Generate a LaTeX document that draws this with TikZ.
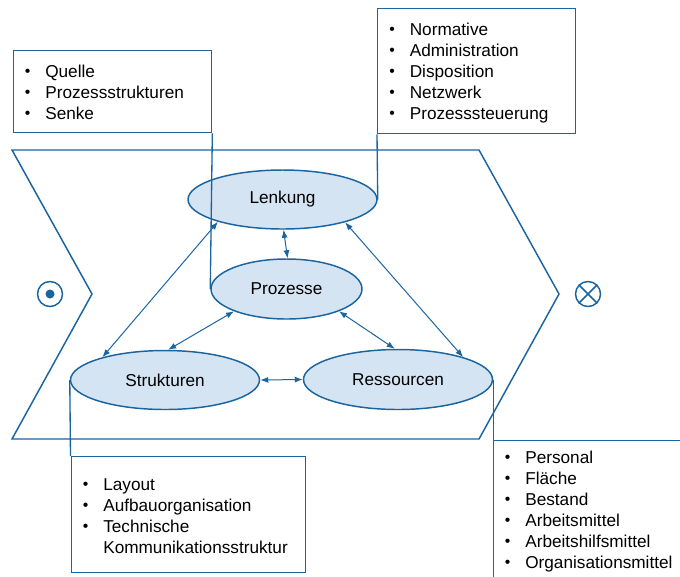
\documentclass[tikz,border=0pt]{standalone}
\usepackage{fontspec}
\setmainfont{Liberation Sans}
\usetikzlibrary{arrows.meta,shapes.geometric}

\definecolor{lineblue}{HTML}{1A64A0}
\definecolor{fillblue}{HTML}{D5E4F3}

% one drawing unit
\newdimen\pxu \pxu=0.75pt

% list bullet
\newcommand{\bul}{\raisebox{0.5pt}{\fontsize{11.8}{11.8}\selectfont\textbullet}}
% bulleted list with hanging indent
\newcommand{\itemlist}[1]{\begin{tabular}[t]{@{}p{15.4pt}@{}l@{}}#1\end{tabular}}

\tikzset{
  >={Latex[length=6pt,width=4.5pt]},
  area/.style={draw=lineblue, line width=1.1pt, line join=miter},
  ell/.style={ellipse, draw=lineblue, fill=fillblue, line width=1.1pt, inner sep=0pt},
  listbox/.style={rectangle, draw=lineblue, line width=1pt, anchor=north west, inner sep=0pt},
  listtext/.style={anchor=base west, inner sep=0pt},
  link/.style={draw=lineblue, line width=1pt},
  conn/.style={<->, draw=lineblue, line width=0.75pt},
  symb/.style={circle, draw=lineblue, line width=1.1pt, minimum size=25\pxu, inner sep=0pt},
}

\begin{document}
\begin{tikzpicture}[x=\pxu, y=-\pxu, font=\fontsize{12.9}{15.75}\selectfont]
\useasboundingbox (0,0) rectangle (680,576);

% process chevron
\draw[area] (12,150) -- (479,150) -- (559,294) -- (479,439) -- (12,439) -- (92,294) -- cycle;

% input and output symbols
\node[symb] (input) at (50,294) {};
\fill[lineblue] (input.center) circle[radius=4.5\pxu];
\node[symb] (output) at (588,294) {};
\draw[lineblue, line width=1.1pt] (output.45) -- (output.225) (output.135) -- (output.-45);

% list boxes
\node[listbox, minimum width=198.5\pxu, minimum height=82\pxu] (quellebox) at (12.5,50) {};
\node[listtext] (quellelist) at (24.5,77) {\itemlist{\bul & Quelle\\ \bul & Prozessstrukturen\\ \bul & Senke}};

\node[listbox, minimum width=197.5\pxu, minimum height=125.5\pxu] (lenkbox) at (377,7.5) {};
\node[listtext] (lenklist) at (389,35) {\itemlist{\bul & Normative\\ \bul & Administration\\ \bul & Disposition\\ \bul & Netzwerk\\ \bul & Prozesssteuerung}};

\node[listbox, minimum width=234\pxu, minimum height=116\pxu] (strukbox) at (70.5,456) {};
\node[listtext] (struklist) at (82.5,490) {\itemlist{\bul & Layout\\ \bul & Aufbauorganisation\\ \bul & Technische\\ & Kommunikationsstruktur}};

\node[listbox, minimum width=230\pxu, minimum height=170\pxu] (ressbox) at (492.5,440) {};
\node[listtext] (resslist) at (504.5,463) {\itemlist{\bul & Personal\\ \bul & Fläche\\ \bul & Bestand\\ \bul & Arbeitsmittel\\ \bul & Arbeitshilfsmittel\\ \bul & Organisationsmittel}};

% ellipses
\node[ell, minimum width=189\pxu, minimum height=59\pxu] (lenkung) at (282.5,199.5) {Lenkung};
\node[ell, minimum width=151\pxu, minimum height=60\pxu] (prozesse) at (286.5,289) {Prozesse};
\node[ell, minimum width=189\pxu, minimum height=59\pxu] (strukturen) at (165,380) {Strukturen};
\node[ell, minimum width=189\pxu, minimum height=60\pxu] (ressourcen) at (398,379.5) {Ressourcen};

% links from the lists to their ellipses
\draw[link] (quellebox.south east) -- (prozesse.west);
\draw[link] (lenkbox.south west) -- (lenkung.east);
\draw[link] (strukturen.west) -- (strukbox.north west);
\draw[link] (ressourcen.east) -- (ressourcen.east |- 0,576);

% relations between the ellipses
\draw[conn] (lenkung.-88) -- (prozesse.88);
\draw[conn] (lenkung.-161) -- (strukturen.160);
\draw[conn] (lenkung.-20) -- (ressourcen.19);
\draw[conn] (prozesse.-157) -- (strukturen.84);
\draw[conn] (prozesse.-23) -- (ressourcen.96);
\draw[conn] (strukturen.east) -- (ressourcen.west);
\end{tikzpicture}
\end{document}
